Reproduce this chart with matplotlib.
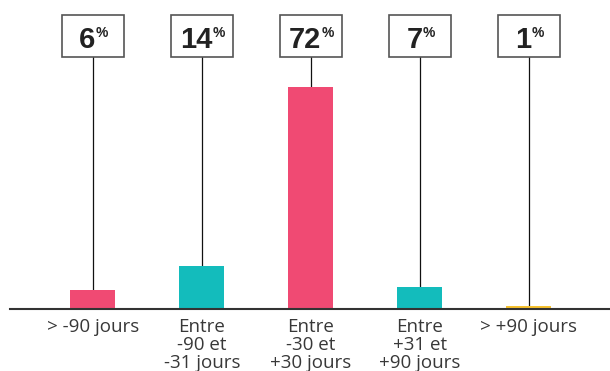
import matplotlib
matplotlib.use("Agg")
import matplotlib.pyplot as plt
from matplotlib.patches import Rectangle

categories = ["> -90 jours", "Entre\n-90 et\n-31 jours", "Entre\n-30 et\n+30 jours",
              "Entre\n+31 et\n+90 jours", "> +90 jours"]
values = [6, 14, 72, 7, 1]
value_labels = ["6", "14", "72", "7", "1"]
colors = ["#F04A73", "#13BCBC", "#F04A73", "#13BCBC", "#F7C22E"]

W, H, DPI = 610, 371, 100
fig = plt.figure(figsize=(W / DPI, H / DPI), dpi=DPI)
fig.patch.set_facecolor("white")

base_px = 309  # baseline row in pixels from top
ax = fig.add_axes([10 / W, (H - base_px) / H, 600 / W, base_px / H])
ax.set_facecolor("none")

x = list(range(len(values)))
ax.bar(x, values, width=0.415, color=colors, zorder=2)

ax.set_xlim(-0.76, 4.745)
ax.set_ylim(0, 100.2)

for s in ["top", "right", "left"]:
    ax.spines[s].set_visible(False)
ax.spines["bottom"].set_color("#333333")
ax.spines["bottom"].set_linewidth(1.5)
ax.set_yticks([])
ax.set_xticks(x)
ax.set_xticklabels(categories, fontfamily="Open Sans", fontsize=13.5, color="#383838",
                   linespacing=1.0, va="top")
ax.tick_params(axis="x", length=0, pad=6.5)

box_bottom, box_top = 81.7, 95.4
box_w = 0.565
for xi, v, lab in zip(x, values, value_labels):
    ax.add_patch(Rectangle((xi - box_w / 2, box_bottom), box_w, box_top - box_bottom,
                           facecolor="white", edgecolor="#555555", linewidth=1.2,
                           zorder=3, clip_on=False))
    ax.plot([xi, xi], [v, box_bottom], color="#111111", linewidth=0.9, zorder=1)
    t = ax.text(xi - 0.05, 84.7, lab, ha="center", va="baseline",
                fontfamily="Liberation Sans", fontweight="bold", fontsize=21,
                color="#222222", zorder=4)
    ax.annotate("%", xy=(1, 84.7), xycoords=(t, "data"), xytext=(0.3, 8.0),
                textcoords="offset points", ha="left", va="baseline",
                fontfamily="Liberation Sans", fontweight="bold", fontsize=10,
                color="#222222", zorder=4)

fig.savefig("out.png", dpi=DPI, facecolor="white")
